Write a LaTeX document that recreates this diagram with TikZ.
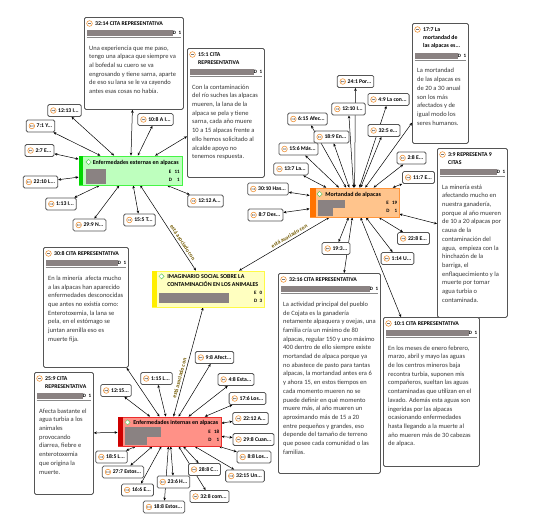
\documentclass[tikz,border=0pt]{standalone}
\usepackage{fontspec}
\setmainfont{Carlito}
\usetikzlibrary{arrows.meta,calc,backgrounds,positioning}

\definecolor{boxgray}{RGB}{85,85,85}
\definecolor{bargray}{RGB}{138,130,130}
\definecolor{bodytext}{RGB}{55,55,55}
\definecolor{qorange}{RGB}{240,150,60}
\definecolor{qgray}{RGB}{120,120,120}
\definecolor{linktext}{RGB}{115,90,0}
\definecolor{extfill}{RGB}{190,255,190}
\definecolor{extline}{RGB}{70,245,70}
\definecolor{extbar}{RGB}{0,215,0}
\definecolor{mortfill}{RGB}{255,196,140}
\definecolor{mortline}{RGB}{255,150,60}
\definecolor{mortbar}{RGB}{255,115,0}
\definecolor{intfill}{RGB}{255,145,135}
\definecolor{intline}{RGB}{235,45,45}
\definecolor{intbar}{RGB}{205,0,0}
\definecolor{imagfill}{RGB}{255,255,192}
\definecolor{imagline}{RGB}{255,250,70}
\definecolor{imagbar}{RGB}{255,238,0}
\definecolor{diamline}{RGB}{90,200,90}

% quotation and code icons
\newcommand{\qicon}{\tikz[baseline=-0.6ex]{\draw[qorange,fill=white,line width=0.6pt] (0pt,0pt) circle (2.8pt); \fill[qgray] (-1.6pt,-0.5pt) rectangle (1.6pt,0.5pt);}}
\newcommand{\cicon}{\tikz[baseline=-0.6ex]{\draw[diamline,fill=white,line width=0.5pt] (0pt,2.6pt) -- (2.6pt,0pt) -- (0pt,-2.6pt) -- (-2.6pt,0pt) -- cycle;}}

% big quotation box: name, left, top, width, height, title, text
\newcommand{\citabox}[7]{%
  \node[cita, anchor=north west, minimum width=#4pt, minimum height=#5pt] (#1) at (#2,#3) {};
  \node[inner sep=0pt] at ([shift={(5.5,6.5)}]#1.north west) {\qicon};
  \node[citatitle, anchor=north west] (#1t) at ([shift={(10.5,4)}]#1.north west) {#6};
  \fill[bargray] ($(#1t.south -| #1.west)+(2.5,3.5)$) rectangle ($(#1t.south -| #1.east)+(-11,10)$);
  \node[dcount, anchor=east] at ($(#1t.south -| #1.east)+(-2.5,6.75)$) {D\enspace1};
  \draw[boxgray!70, line width=1pt] ($(#1t.south -| #1.west)+(2.5,11.5)$) -- ($(#1t.south -| #1.east)+(-2.5,11.5)$);
  \node[citabody, anchor=north west] at ($(#1t.south -| #1.west)+(4.5,18.7)$) {#7};
}

\begin{document}
\begin{tikzpicture}[x=1pt, y=-1pt,
  cita/.style={draw=boxgray, line width=0.8pt, rounded corners=1.5pt, fill=white, inner sep=0pt},
  citatitle/.style={font=\fontsize{5.8}{8}\selectfont\bfseries, align=left, inner sep=0.5pt},
  citabody/.style={font=\fontsize{6.5}{8.7}\selectfont, text=bodytext, align=left, inner sep=0.5pt},
  dcount/.style={font=\fontsize{5}{6}\selectfont\bfseries, inner sep=0pt},
  quote/.style={draw=boxgray, line width=0.8pt, rounded corners=1.5pt, fill=white,
    font=\fontsize{5.7}{6}\selectfont\bfseries, inner xsep=2.5pt, inner ysep=0pt,
    minimum height=12pt, execute at begin node={\qicon\hspace{1.8pt}}},
  code/.style={draw=#1line, fill=#1fill, line width=0.8pt, inner sep=0pt},
  codetitle/.style={font=\fontsize{6}{7.8}\selectfont\bfseries, align=left, inner sep=0.5pt},
  codecount/.style={font=\fontsize{5}{8}\selectfont\bfseries, inner sep=0pt},
  link/.style={line width=0.5pt, {Stealth[length=3pt,width=2.6pt]}-{Stealth[length=3pt,width=2.6pt]}},
  linklabel/.style={font=\fontsize{5.6}{6}\selectfont\bfseries, text=linktext, inner sep=2pt}
]
\useasboundingbox (0,0) rectangle (544,522);

% Enfermedades externas
\node[code=ext, minimum width=103pt, minimum height=29pt] (ext) at (130.5,170.5) {};
\fill[extbar] (ext.north west) rectangle ([xshift=4.5pt]ext.south west);
\node[inner sep=0pt] at ([shift={(10,6.5)}]ext.north west) {\cicon};
\node[codetitle, anchor=north west] at ([shift={(13.5,3.8)}]ext.north west) {Enfermedades externas en alpacas};
\fill[bargray] ([shift={(7,13)}]ext.north west) rectangle ([shift={(27,28)}]ext.north west);
\node[codecount, anchor=north east] at ([shift={(-2.5,12)}]ext.north east) {\begin{tabular}{@{}l@{\enspace}r@{}}E&11\\D&1\end{tabular}};

% Mortandad
\node[code=mort, minimum width=89pt, minimum height=29pt] (mort) at (354.5,202.5) {};
\fill[mortbar] (mort.north west) rectangle ([xshift=6pt]mort.south west);
\node[inner sep=0pt] at ([shift={(10,6.5)}]mort.north west) {\cicon};
\node[codetitle, anchor=north west] at ([shift={(15,3.8)}]mort.north west) {Mortandad de alpacas};
\fill[bargray] ([shift={(8,12)}]mort.north west) rectangle ([shift={(35,20)}]mort.north west);
\fill[bargray] ([shift={(8,20)}]mort.north west) rectangle ([shift={(23,28)}]mort.north west);
\node[codecount, anchor=north east] at ([shift={(-2,11.5)}]mort.north east) {\begin{tabular}{@{}l@{\enspace}r@{}}E&19\\D&1\end{tabular}};

% Enfermedades internas
\node[code=int, minimum width=103pt, minimum height=29pt] (int) at (169.5,431.5) {};
\fill[intbar] (int.north west) rectangle ([xshift=5.5pt]int.south west);
\node[inner sep=0pt] at ([shift={(10,5.8)}]int.north west) {\cicon};
\node[codetitle, anchor=north west] at ([shift={(15,3.2)}]int.north west) {Enfermedades internas en alpacas};
\fill[bargray] ([shift={(7,10)}]int.north west) rectangle ([shift={(43,20)}]int.north west);
\fill[bargray] ([shift={(7,20)}]int.north west) rectangle ([shift={(29,28)}]int.north west);
\node[codecount, anchor=north east] at ([shift={(-2,11)}]int.north east) {\begin{tabular}{@{}l@{\enspace}r@{}}E&18\\D&1\end{tabular}};

% Imaginario social
\node[code=imag, minimum width=112pt, minimum height=36pt] (imag) at (208,289) {};
\fill[imagbar] (imag.north west) rectangle ([xshift=5pt]imag.south west);
\node[inner sep=0pt] at ([shift={(10,5.8)}]imag.north west) {\cicon};
\node[codetitle, anchor=north west] at ([shift={(15,3)}]imag.north west) {IMAGINARIO SOCIAL SOBRE LA\\CONTAMINACIÓN EN LOS ANIMALES};
\fill[bargray] ([shift={(7,22)}]imag.north west) rectangle ([shift={(77,32)}]imag.north west);
\node[codecount, anchor=north east] at ([shift={(-2,18.3)}]imag.north east) {\begin{tabular}{@{}l@{\enspace}r@{}}E&0\\D&3\end{tabular}};

% big quotations
\citabox{c3214}{84}{17}{99}{92}{32:14 CITA REPRESENTATIVA}{Una experiencia que me paso,\\tengo una alpaca que siempre va\\al bofedal su cuero se va\\engrosando y tiene sarna, aparte\\de eso su lana se le va cayendo\\antes esas cosas no había.}
\citabox{c151}{187}{48}{77}{129}{15:1 CITA\\REPRESENTATIVA}{Con la contaminación\\del río suches las alpacas\\mueren, la lana de la\\alpaca se pela y tiene\\sarna, cada año muere\\10 a 15 alpacas frente a\\ello hemos solicitado al\\alcalde apoyo no\\tenemos respuesta.}
\citabox{c177}{412}{23}{56}{120}{17:7 La\\mortandad de\\las alpacas es...}{La mortandad\\de las alpacas es\\de 20 a 30 anual\\son los más\\afectados y de\\igual modo los\\seres humanos.}
\citabox{c39}{437}{148}{70}{169}{3:9 REPRESENTA 9\\CITAS}{La minería está\\afectando mucho en\\nuestra ganadería,\\porque al año mueren\\de 10 a 20 alpacas por\\causa de la\\contaminación del\\agua,\ \ empieza con la\\hinchazón de la\\barriga, el\\enflaquecimiento y la\\muerte por tomar\\agua turbia o\\contaminada.}
\citabox{c3216}{278}{273}{102}{200}{32:16 CITA REPRESENTATIVA}{La actividad principal del pueblo\\de Cojata es la ganadería\\netamente alpaquera y ovejas, una\\familia cría un mínimo de 80\\alpacas, regular 150 y uno máximo\\400 dentro de ello siempre existe\\mortandad de alpaca porque ya\\no abastece de pasto para tantas\\alpacas, la mortandad antes era 6\\y ahora 15, en estos tiempos en\\cada momento mueren no se\\puede definir en qué momento\\muere más, al año mueren un\\aproximando más de 15 a 20\\entre pequeños y grandes, eso\\depende del tamaño de terreno\\que posee cada comunidad o las\\familias.}
\citabox{c101}{383}{317}{96}{149}{10:1 CITA REPRESENTATIVA}{En los meses de enero febrero,\\marzo, abril y mayo las aguas\\de los centros mineros baja\\recontra turbia, suponen mis\\compañeros, sueltan las aguas\\contaminadas que utilizan en el\\lavado. Además esta aguas son\\ingeridas por las alpacas\\ocasionando enfermedades\\hasta llegando a la muerte al\\año mueren más de 30 cabezas\\de alpaca.}
\citabox{c308}{43}{247}{85}{120}{30:8 CITA REPRESENTATIVA}{En la minería\ \ afecta mucho\\a las alpacas han aparecido\\enfermedades desconocidas\\que antes no existía como:\\Enterotoxemia, la lana se\\pela, en el estómago se\\juntan arenilla eso es\\muerte fija.}
\citabox{c259}{34}{372}{59}{122}{25:9 CITA\\REPRESENTATIVA}{Afecta bastante el\\agua turbia a los\\animales\\provocando\\diarrea, fiebre e\\enterotoxemia\\que origina la\\muerte.}

% small quotations round Enfermedades externas
\node[quote] (q1213) at (64.5,110.5) {12:13 I...};
\node[quote] (q71) at (40.5,126) {7:1 Y...};
\node[quote] (q108) at (155.5,119.5) {10:8 A I...};
\node[quote] (q27) at (39.5,150.5) {2:7 E...};
\node[quote] (q2210) at (40.5,182) {22:10 L...};
\node[quote] (q113) at (61,204) {1:13 I...};
\node[quote] (q299) at (89.5,225) {29:9 N...};
\node[quote] (q155) at (139.5,220) {15:5 T...};
\node[quote] (q1212) at (205.5,201) {12:12 A...};

% small quotations round Mortandad
\node[quote] (q241) at (355.5,81.5) {24:1 Por...};
\node[quote] (q49) at (388.5,99.5) {4:9 La con...};
\node[quote] (q1210) at (348.5,109) {12:10 I...};
\node[quote] (q615) at (307.5,119) {6:15 Afec...};
\node[quote] (q325) at (384,130.5) {32:5 e...};
\node[quote] (q189) at (331.5,137) {18:9 En...};
\node[quote] (q156) at (298.5,149) {15:6 Más...};
\node[quote] (q28) at (411.5,158) {2:8 E...};
\node[quote] (q137) at (291,169) {13:7 La...};
\node[quote] (q117) at (418.5,177.5) {11:7 E...};
\node[quote] (q3010) at (268,189) {30:10 Has...};
\node[quote] (q87) at (265.5,215) {8:7 Des...};
\node[quote] (q228) at (413.5,238.5) {22:8 E...};
\node[quote] (q114) at (397.5,258.5) {1:14 U...};
\node[quote] (q193) at (336,248.5) {19:3...};

% small quotations round Enfermedades internas
\node[quote] (q115) at (156.5,378.5) {1:15 L...};
\node[quote] (q1215) at (116,390.5) {12:15...};
\node[quote] (q98) at (214.5,357.5) {9:8 Afect...};
\node[quote] (q48) at (236,379.5) {4:8 Esta...};
\node[quote] (q176) at (247.5,398.5) {17:6 Los...};
\node[quote] (q2212) at (250.5,418.5) {22:12 A...};
\node[quote] (q298) at (253.5,439.5) {29:8 Cuan...};
\node[quote] (q88) at (254,457) {8:8 Los...};
\node[quote] (q3215) at (245,476) {32:15 Un...};
\node[quote] (q288) at (204.5,469.5) {28:8 C...};
\node[quote] (q328) at (209.5,496.5) {32:8 com...};
\node[quote] (q236) at (173.5,482) {23:6 H...};
\node[quote] (q188) at (164,507) {18:8 Estos...};
\node[quote] (q166) at (137.5,490) {16:6 E...};
\node[quote] (q277) at (123,472) {27:7 Estos...};
\node[quote] (q185) at (111.5,457) {18:5 L...};

% links
\begin{scope}[on background layer]
\fill[white] (0,0) rectangle (544,522);
\foreach \q in {c3214,c151,q108,q1213,q71,q27,q2210,q113,q299,q155,q1212}
  \draw[link] (ext) -- (\q);
\foreach \q in {q241,q49,q1210,q615,q325,q189,q156,q28,q137,q117,q3010,q87,q228,q114,q193,c177,c39,c3216,c101}
  \draw[link] (mort) -- (\q);
\foreach \q in {c308,c259,q1215,q115,q98,q48,q176,q2212,q298,q88,q3215,q288,q328,q236,q188,q166,q277,q185}
  \draw[link] (int) -- (\q);
\draw[link] (ext) -- node[linklabel, sloped, above, pos=0.7] {está asociado con} (imag);
\draw[link] (mort) -- node[linklabel, sloped, above, pos=0.42] {está asociado con} (imag);
\draw[link] (imag) -- node[linklabel, sloped, above, pos=0.66] {está asociado con} (int);
\end{scope}
\end{tikzpicture}
\end{document}
